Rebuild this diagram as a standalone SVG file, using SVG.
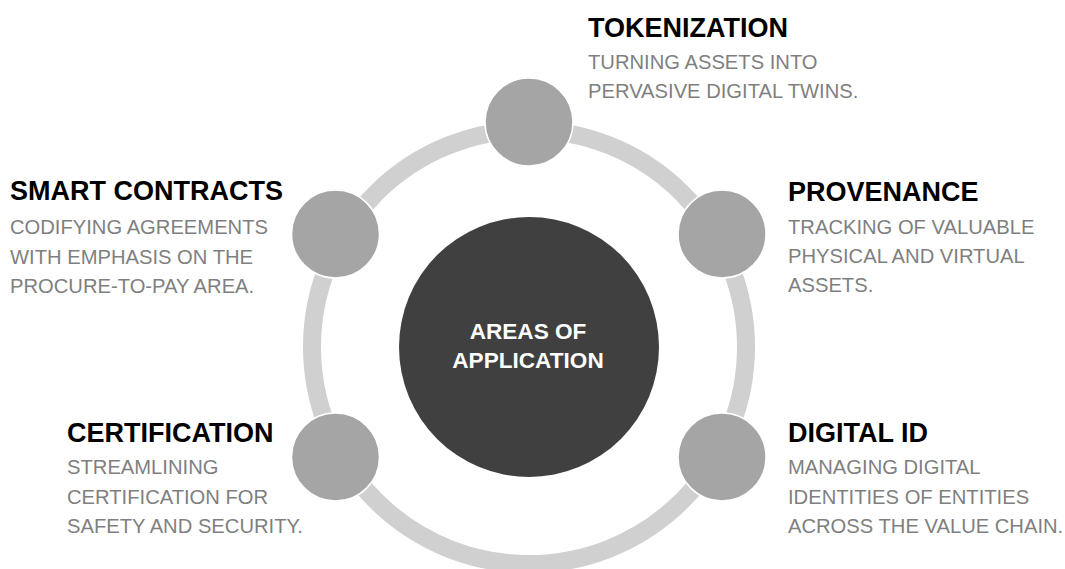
<svg xmlns="http://www.w3.org/2000/svg" width="1065" height="569" viewBox="0 0 1065 569">
<style>
.ring{fill:none;stroke:#d0d0d0;stroke-width:18}
.dot{fill:#a5a5a5;stroke:#ffffff;stroke-width:1.5}
.hub{fill:#404040}
.hubt{font-family:"Liberation Sans",Arial,sans-serif;font-weight:bold;font-size:22.6px;fill:#ffffff;text-anchor:middle}
.title{font-family:"Liberation Sans",Arial,sans-serif;font-weight:bold;font-size:27px;fill:#000000}
.sub{font-family:"Liberation Sans",Arial,sans-serif;font-size:20.2px;fill:#7f7f7f}
</style>
<rect width="1065" height="569" fill="#ffffff"/>
<g id="connectors">
<circle class="ring" cx="529" cy="347" r="217"/>
</g>
<g id="hub">
<circle class="hub" cx="529" cy="347" r="130"/>
<text class="hubt" x="528" y="339">AREAS OF</text>
<text class="hubt" x="528" y="368">APPLICATION</text>
</g>
<g id="tokenization">
<circle class="dot" cx="529" cy="122" r="44"/>
<text class="title" x="588" y="37">TOKENIZATION</text>
<text class="sub" x="588" y="69">TURNING ASSETS INTO</text>
<text class="sub" x="588" y="98">PERVASIVE DIGITAL TWINS.</text>
</g>
<g id="provenance">
<circle class="dot" cx="722" cy="234" r="44"/>
<text class="title" x="788" y="201">PROVENANCE</text>
<text class="sub" x="788" y="234">TRACKING OF VALUABLE</text>
<text class="sub" x="788" y="263">PHYSICAL AND VIRTUAL</text>
<text class="sub" x="788" y="292">ASSETS.</text>
</g>
<g id="digital-id">
<circle class="dot" cx="722" cy="457" r="44"/>
<text class="title" x="788" y="442">DIGITAL ID</text>
<text class="sub" x="788" y="474">MANAGING DIGITAL</text>
<text class="sub" x="788" y="504">IDENTITIES OF ENTITIES</text>
<text class="sub" x="788" y="533">ACROSS THE VALUE CHAIN.</text>
</g>
<g id="certification">
<circle class="dot" cx="335.5" cy="457" r="44"/>
<text class="title" x="67" y="442">CERTIFICATION</text>
<text class="sub" x="67" y="474">STREAMLINING</text>
<text class="sub" x="67" y="504">CERTIFICATION FOR</text>
<text class="sub" x="67" y="533">SAFETY AND SECURITY.</text>
</g>
<g id="smart-contracts">
<circle class="dot" cx="335.5" cy="234" r="44"/>
<text class="title" x="10" y="200">SMART CONTRACTS</text>
<text class="sub" x="10" y="234">CODIFYING AGREEMENTS</text>
<text class="sub" x="10" y="264">WITH EMPHASIS ON THE</text>
<text class="sub" x="10" y="293">PROCURE-TO-PAY AREA.</text>
</g>
</svg>
